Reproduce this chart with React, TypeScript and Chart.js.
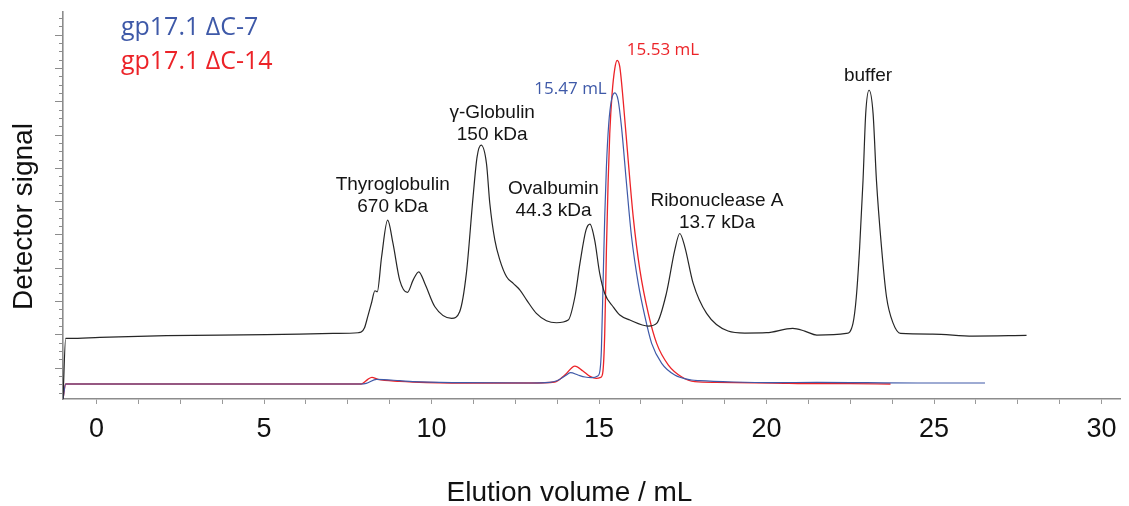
import React, { useEffect, useRef } from "react";
import { Chart, registerables } from "chart.js";

Chart.register(...registerables);

// Reference (calibration standards) trace
const blackX = [-1.0, -0.92, -0.8, 0.1, 2.09, 5.07, 7.06, 7.81, 7.9, 8.0, 8.1, 8.21, 8.31, 8.38, 8.51, 8.69, 8.85, 9.05, 9.28, 9.45, 9.62, 9.8, 10.1, 10.6, 10.84, 11.04, 11.24, 11.36, 11.48, 11.64, 11.74, 11.89, 12.04, 12.24, 12.44, 12.64, 12.84, 13.13, 13.43, 13.73, 14.08, 14.28, 14.43, 14.61, 14.73, 14.87, 15.02, 15.17, 15.42, 15.62, 15.92, 16.47, 16.72, 17.01, 17.26, 17.41, 17.56, 17.81, 18.21, 18.85, 19.35, 20.0, 20.78, 21.14, 21.5, 22.38, 22.58, 22.68, 22.78, 22.88, 22.96, 23.06, 23.18, 23.28, 23.43, 23.58, 23.78, 24.0, 24.96, 26.16, 27.76];
const blackY = [0.06, 1.88, 1.88, 1.91, 1.96, 1.99, 2.03, 2.05, 2.07, 2.2, 2.55, 2.95, 3.31, 3.28, 4.33, 5.43, 4.73, 3.63, 3.26, 3.63, 3.88, 3.53, 2.83, 2.48, 2.68, 3.83, 6.13, 7.33, 7.68, 7.13, 5.93, 4.83, 4.23, 3.73, 3.53, 3.33, 3.03, 2.63, 2.41, 2.35, 2.43, 3.13, 4.13, 5.13, 5.31, 4.83, 3.83, 3.23, 2.83, 2.58, 2.43, 2.25, 2.33, 3.23, 4.53, 5.03, 4.63, 3.53, 2.63, 2.1, 2.04, 2.05, 2.18, 2.1, 1.98, 2.03, 2.33, 3.13, 4.63, 6.63, 8.63, 9.33, 8.63, 6.63, 4.63, 3.13, 2.33, 2.03, 2.01, 1.95, 1.97];

// gp17.1 ΔC-7
const blueX = [-1.0, -0.92, 2, 5, 7.9, 8.05, 8.36, 9.05, 9.44, 10.93, 12.93, 13.53, 13.74, 13.98, 14.15, 14.37, 14.58, 14.78, 14.96, 15.03, 15.07, 15.12, 15.17, 15.22, 15.29, 15.37, 15.47, 15.57, 15.67, 15.82, 15.97, 16.17, 16.37, 16.57, 16.87, 17.26, 17.76, 18.0, 19.0, 20.19, 21.5, 23.0, 24.5, 26.52];
const blueY = [0.06, 0.51, 0.51, 0.51, 0.51, 0.53, 0.65, 0.61, 0.58, 0.55, 0.54, 0.56, 0.61, 0.75, 0.85, 0.78, 0.72, 0.7, 0.75, 0.93, 1.53, 3.53, 5.53, 7.03, 8.33, 9.03, 9.25, 9.03, 8.23, 6.53, 4.93, 3.53, 2.53, 1.73, 1.13, 0.78, 0.63, 0.61, 0.57, 0.55, 0.56, 0.55, 0.54, 0.54];

// gp17.1 ΔC-14
const redX = [-1.0, -0.92, 2, 5, 7.9, 7.95, 8.1, 8.22, 8.4, 9.05, 9.44, 10.93, 12.93, 13.68, 13.98, 14.28, 14.52, 14.73, 14.92, 15.05, 15.11, 15.17, 15.22, 15.27, 15.32, 15.39, 15.47, 15.54, 15.62, 15.72, 15.87, 16.02, 16.22, 16.47, 16.72, 17.07, 17.46, 17.86, 18.5, 20.19, 21.5, 22.5, 23.7];
const redY = [0.06, 0.51, 0.51, 0.51, 0.51, 0.53, 0.65, 0.71, 0.65, 0.59, 0.57, 0.54, 0.54, 0.57, 0.78, 1.05, 0.9, 0.74, 0.68, 0.71, 0.84, 2.03, 4.53, 6.53, 8.03, 9.23, 9.98, 10.23, 10.03, 9.03, 7.23, 5.53, 3.93, 2.63, 1.73, 1.08, 0.73, 0.58, 0.56, 0.54, 0.52, 0.52, 0.51];

const xMin = -1.0;
const xMax = 30.55;
const yMin = 0.06;
const yMax = 11.68;
const xLabeledTicks = [0, 5, 10, 15, 20, 25, 30];
const xMinorStep = 1.25;
const yMinorStep = 0.25;

const seriesNames = ["gp17.1 \u0394C-7", "gp17.1 \u0394C-14"];
const seriesColors = ["#3e59a8", "#ec2328"];
const legendX = 0.73;
const legendY = [10.98, 9.98];

const peakLabels = ["15.47 mL", "15.53 mL"];
const peakLabelX = [15.23, 15.83];
const peakLabelY = [9.23, 10.38];

const standardNames = [
  ["Thyroglobulin", "670 kDa"],
  ["\u03b3-Globulin", "150 kDa"],
  ["Ovalbumin", "44.3 kDa"],
  ["Ribonuclease A", "13.7 kDa"],
  ["buffer"],
];
const standardLabelX = [8.84, 11.81, 13.64, 18.52, 23.03];
const standardLabelY = [6.33, 8.51, 6.23, 5.86, 9.61];

const xTitle = "Elution volume / mL";
const yTitle = "Detector signal";

const zip = (xs: number[], ys: number[]) => xs.map((x, i) => ({ x, y: ys[i] }));

const SANS = "'Liberation Sans', Arial, sans-serif";
const MYRIAD = "'Open Sans', 'Noto Sans', sans-serif";

const textPlugin = {
  id: "chromTexts",
  afterDraw(chart: any) {
    const { ctx, chartArea } = chart;
    const xs = chart.scales.x;
    const ys = chart.scales.y;
    ctx.save();

    // y-axis tick marks (major + minor)
    ctx.strokeStyle = "#8c8c8c";
    ctx.lineWidth = 1;
    const left = Math.round(chartArea.left);
    for (let k = 1; k * yMinorStep <= yMax; k++) {
      const v = k * yMinorStep;
      const py = Math.round(ys.getPixelForValue(v)) + 0.5;
      const len = k % 4 === 0 ? 8 : 4;
      ctx.beginPath();
      ctx.moveTo(left - len, py);
      ctx.lineTo(left, py);
      ctx.stroke();
    }

    // standards annotations
    ctx.fillStyle = "#141414";
    ctx.font = `19px ${SANS}`;
    ctx.textAlign = "center";
    ctx.textBaseline = "alphabetic";
    standardNames.forEach((lines, i) => {
      const px = xs.getPixelForValue(standardLabelX[i]);
      const py = ys.getPixelForValue(standardLabelY[i]);
      lines.forEach((t, j) => ctx.fillText(t, px, py + j * 22));
    });

    // peak position labels
    ctx.font = `17px ${MYRIAD}`;
    peakLabels.forEach((t, i) => {
      ctx.fillStyle = seriesColors[i];
      ctx.textAlign = i === 0 ? "right" : "left";
      ctx.fillText(t, xs.getPixelForValue(peakLabelX[i]), ys.getPixelForValue(peakLabelY[i]));
    });

    // legend
    ctx.font = `25px ${MYRIAD}`;
    ctx.textAlign = "left";
    seriesNames.forEach((t, i) => {
      ctx.fillStyle = seriesColors[i];
      ctx.fillText(t, xs.getPixelForValue(legendX), ys.getPixelForValue(legendY[i]));
    });

    // axis titles
    ctx.fillStyle = "#111";
    ctx.font = `28px ${SANS}`;
    ctx.textAlign = "center";
    ctx.textBaseline = "middle";
    ctx.fillText(xTitle, 569.5, 493);
    ctx.translate(32, (chartArea.top + chartArea.bottom) / 2 + 11);
    ctx.rotate(-Math.PI / 2);
    ctx.textBaseline = "alphabetic";
    ctx.fillText(yTitle, 0, 0);
    ctx.restore();
  },
};

export default function App() {
  const canvasRef = useRef<HTMLCanvasElement | null>(null);

  useEffect(() => {
    document.body.style.margin = "0";
    const canvas = canvasRef.current;
    if (!canvas) return;
    const lineDs = (label: string, xs: number[], ys: number[], color: string, width: number) => ({
      label,
      data: zip(xs, ys),
      borderColor: color,
      backgroundColor: color,
      borderWidth: width,
      pointRadius: 0,
      fill: false,
      cubicInterpolationMode: "monotone" as const,
    });
    const chart = new Chart(canvas, {
      type: "line",
      data: {
        datasets: [
          lineDs("Standards", blackX, blackY, "#262626", 1.2),
          lineDs(seriesNames[0], blueX, blueY, seriesColors[0], 1.2),
          lineDs(seriesNames[1], redX, redY, seriesColors[1], 1.3),
        ],
      },
      options: {
        animation: false,
        responsive: true,
        maintainAspectRatio: false,
        layout: { padding: { top: 12, right: 9, left: 0, bottom: 0 } },
        plugins: { legend: { display: false }, tooltip: { enabled: false } },
        scales: {
          x: {
            type: "linear",
            min: xMin,
            max: xMax,
            afterBuildTicks: (scale: any) => {
              const t = [];
              for (let v = 0; v <= xMax + 1e-9; v += xMinorStep) t.push({ value: v });
              scale.ticks = t;
            },
            afterFit: (scale: any) => {
              scale.height = 107;
            },
            ticks: {
              autoSkip: false,
              maxRotation: 0,
              padding: 9,
              color: "#111",
              font: { family: SANS, size: 27 },
              callback: (v: any) => (xLabeledTicks.includes(Number(v)) ? String(v) : ""),
            },
            grid: { display: true, drawOnChartArea: false, drawTicks: true, tickLength: 5, color: "#9a9a9a", lineWidth: 1 },
            border: { display: true, color: "#8c8c8c", width: 1.6 },
            title: { display: false },
          },
          y: {
            type: "linear",
            min: yMin,
            max: yMax,
            afterFit: (scale: any) => {
              scale.width = 63;
            },
            ticks: { display: false },
            grid: { display: false },
            border: { display: true, color: "#8c8c8c", width: 1.6 },
            title: { display: false },
          },
        },
      },
      plugins: [textPlugin],
    });
    return () => chart.destroy();
  }, []);

  return (
    <div style={{ position: "relative", width: 1129, height: 506 }}>
      <canvas ref={canvasRef} />
    </div>
  );
}
